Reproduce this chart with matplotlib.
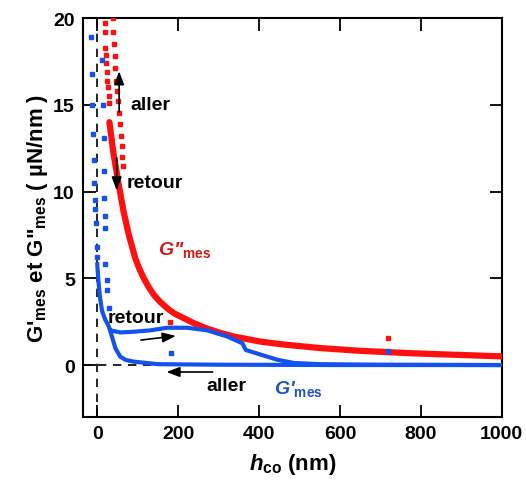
import matplotlib
matplotlib.use("Agg")
import matplotlib.pyplot as plt

plt.rcParams["font.family"] = "Liberation Sans"
plt.rcParams["font.weight"] = "bold"
plt.rcParams["axes.labelweight"] = "bold"
plt.rcParams["mathtext.fontset"] = "custom"
plt.rcParams["mathtext.rm"] = "Liberation Sans:bold"
plt.rcParams["mathtext.it"] = "Liberation Sans:italic:bold"
plt.rcParams["mathtext.bf"] = "Liberation Sans:bold"

# G'' band (aller + retour overlap)
red_h = [30, 40, 53, 65, 78, 94, 104, 115, 127, 140, 155, 173, 190, 214, 240, 272, 300,
         338, 404, 454, 550, 650, 776, 900, 1000]
red_g = [14.0, 12.2, 10.4, 8.85, 7.5, 6.15, 5.55, 5.0, 4.5, 4.04, 3.65, 3.27, 2.98, 2.7,
         2.4, 2.1, 1.88, 1.64, 1.35, 1.2, 0.98, 0.82, 0.68, 0.58, 0.5]

# G'' scattered points near contact
red_dots1_h = [18, 19, 20, 21, 22, 23, 25, 27, 28, 30]
red_dots1_g = [19.7, 19.2, 18.3, 17.9, 17.4, 16.9, 16.4, 16.0, 15.5, 15.1]
red_dots2_h = [39, 40, 42, 43, 45, 47, 49, 51, 54, 56, 58, 60, 62, 64]
red_dots2_g = [20.0, 19.2, 18.5, 17.8, 17.1, 16.4, 15.8, 15.2, 14.5, 13.9, 13.2, 12.6, 12.0, 11.5]
red_iso_h = [181, 718]
red_iso_g = [2.5, 1.58]

# G' retour (upper branch)
blue_ret_h = [0, 3, 7, 12, 20, 27, 32, 57, 90, 131, 173, 222, 272, 321, 359, 367, 404, 446, 486, 550, 700, 1000]
blue_ret_g = [5.8, 4.8, 3.85, 3.1, 2.6, 2.3, 2.0, 1.88, 1.92, 2.0, 2.15, 2.15, 2.0, 1.65, 1.25, 0.87, 0.6, 0.3, 0.12, 0.05, 0.02, 0.0]
# G' aller (lower branch)
blue_all_h = [1000, 600, 300, 150, 89, 70, 57, 45, 38, 33, 32]
blue_all_g = [0.0, 0.0, 0.02, 0.05, 0.2, 0.3, 0.48, 0.96, 1.5, 1.9, 2.0]

# G' scattered points near contact
blue_dots1_h = [-16, -13, -13, -10, -9, -9, -6, -5, -3, -1, 0]
blue_dots1_g = [18.9, 16.8, 15.0, 13.3, 11.8, 10.5, 9.5, 9.0, 8.2, 6.8, 6.2]
blue_dots2_h = [12, 14, 16, 16, 17, 18, 20, 20, 24, 25, 28]
blue_dots2_g = [17.6, 15.0, 13.1, 11.2, 9.6, 8.6, 7.9, 5.8, 4.9, 4.3, 3.3]
blue_iso_h = [182, 718]
blue_iso_g = [0.67, 0.81]

RED = "#FF1010"
BLUE = "#1452F0"

fig = plt.figure(figsize=(5.26, 4.89), dpi=100)
ax = fig.add_axes([0.158, 0.145, 0.796, 0.816])

ax.axvline(0, color="black", linestyle=(0, (5, 4)), linewidth=1.2, zorder=1)
ax.axhline(0, color="black", linestyle=(0, (5, 4)), linewidth=1.2, zorder=1)

ax.plot(red_h, red_g, color=RED, linewidth=4.5, solid_capstyle="round",
        solid_joinstyle="round", zorder=3)
ax.plot(red_dots1_h, red_dots1_g, "s", color=RED, markersize=2.8, zorder=3)
ax.plot(red_dots2_h, red_dots2_g, "s", color=RED, markersize=2.8, zorder=3)
ax.plot(red_iso_h, red_iso_g, "s", color=RED, markersize=2.8, zorder=3)

ax.plot(blue_ret_h, blue_ret_g, color=BLUE, linewidth=3, solid_joinstyle="round", zorder=4)
ax.plot(blue_all_h, blue_all_g, color=BLUE, linewidth=3, solid_joinstyle="round", zorder=4)
ax.plot(blue_dots1_h, blue_dots1_g, "s", color=BLUE, markersize=2.8, zorder=4)
ax.plot(blue_dots2_h, blue_dots2_g, "s", color=BLUE, markersize=2.8, zorder=4)
ax.plot(blue_iso_h, blue_iso_g, "s", color=BLUE, markersize=3.2, zorder=4)

arrow = dict(arrowstyle="-|>,head_length=0.8,head_width=0.3", color="black", lw=1.2)
ax.annotate("", xy=(54, 17.1), xytext=(54, 14.4), arrowprops=arrow, zorder=5)
ax.annotate("", xy=(48, 9.9), xytext=(48, 12.1), arrowprops=arrow, zorder=5)
ax.annotate("", xy=(201, 1.7), xytext=(101, 1.42), arrowprops=arrow, zorder=5)
ax.annotate("", xy=(164, -0.4), xytext=(292, -0.4), arrowprops=arrow, zorder=5)

ax.text(131, 15.0, "aller", fontsize=14, ha="center", va="center")
ax.text(142, 10.5, "retour", fontsize=14, ha="center", va="center")
ax.text(96, 2.75, "retour", fontsize=14, ha="center", va="center", zorder=6)
ax.text(320, -1.2, "aller", fontsize=14, ha="center", va="center")
ax.text(149, 6.7, 'G"$_{\\mathrm{mes}}$', fontsize=14, fontstyle="italic",
        color="#D41818", ha="left", va="center")
ax.text(436, -1.3, "G'$_{\\mathrm{mes}}$", fontsize=14, fontstyle="italic",
        color="#1F50D8", ha="left", va="center")

ax.set_xlim(-35, 1000)
ax.set_ylim(-3, 20)
ax.set_xticks([0, 200, 400, 600, 800, 1000])
ax.set_yticks([0, 5, 10, 15, 20])
ax.tick_params(direction="in", length=9, width=1.3, labelsize=14, pad=6,
               top=True, right=True)
for s in ax.spines.values():
    s.set_linewidth(1.5)

ax.set_xlabel(r"$h_{\mathrm{co}}$ (nm)", fontsize=16, labelpad=6)
ax.set_ylabel("G'$_{\\mathrm{mes}}$ et G\"$_{\\mathrm{mes}}$ ( µN/nm )", fontsize=16, labelpad=2)

fig.savefig("out.png", dpi=100)
